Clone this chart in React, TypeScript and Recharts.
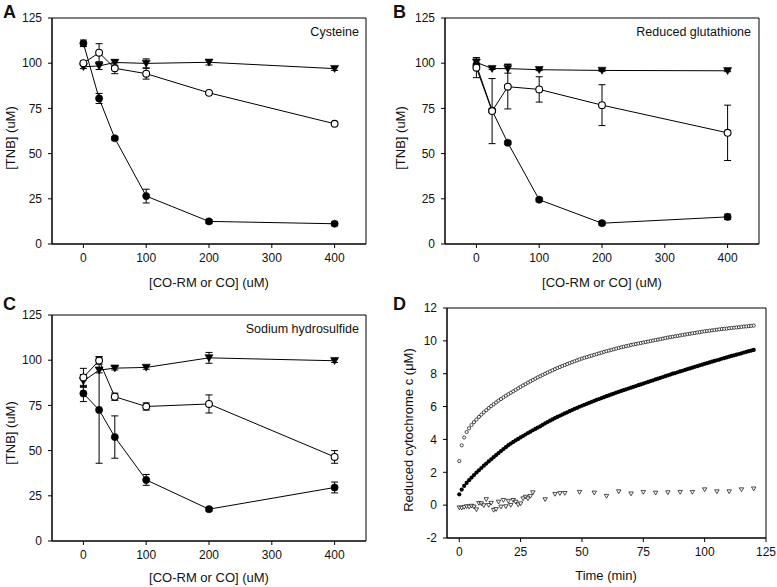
import React from 'react';
import {
  ComposedChart,
  ScatterChart,
  Line,
  Scatter,
  XAxis,
  YAxis,
  ErrorBar,
  ReferenceArea,
} from 'recharts';

const FONT = '"Liberation Sans", Arial, Helvetica, sans-serif';
const INK = '#111';

// ---------- Panels A-C: dose axis ----------
const doseX = [0, 25, 50, 100, 200, 400];
const doseTicks = [0, 100, 200, 300, 400];
const tnbTicks = [0, 25, 50, 75, 100, 125];

// A: Cysteine
const cysFilled = [111, 80.5, 58.5, 26.5, 12.5, 11.2];
const cysFilledErr = [1.8, 2.8, 1, 3.8, 1, 1];
const cysOpen = [100, 105.8, 97.2, 94.2, 83.6, 66.5];
const cysOpenErr = [1, 5, 3, 3, 0.6, 0.6];
const cysTri = [98, 98.5, 100.4, 99.9, 100.5, 97];
const cysTriErr = [1, 2, 1.5, 2.5, 1.5, 1];

// B: Reduced glutathione
const gshFilled = [99, 73.8, 56, 24.5, 11.5, 15];
const gshFilledErr = [1, 1, 1, 1, 1, 1.5];
const gshOpen = [97.5, 73.5, 87, 85.5, 76.8, 61.5];
const gshOpenErr = [5.5, 18, 12.3, 7, 11.3, 15.3];
const gshTri = [100.5, 97, 97, 96.4, 96, 95.8];
const gshTriErr = [2.5, 0.5, 2.5, 0.5, 0.5, 0.5];

// C: Sodium hydrosulfide
const nahsFilled = [81.6, 72.5, 57.5, 33.8, 17.6, 29.6];
const nahsFilledErr = [4.5, 29.5, 11.7, 3, 1, 3];
const nahsOpen = [90.5, 99.8, 79.8, 74.4, 75.8, 46.5];
const nahsOpenErr = [5, 2, 2, 2, 5, 3.5];
const nahsTri = [88.5, 94.5, 95.6, 96, 101.3, 99.7];
const nahsTriErr = [3.5, 1.5, 1, 1, 3, 1];

// ---------- Panel D: time course ----------
const timeTicks = [0, 25, 50, 75, 100, 125];
const cytTicks = [-2, 0, 2, 4, 6, 8, 10, 12];
const timeMin = Array.from({ length: 121 }, (_, i) => i);
const cytOpen = [
  2.68, 3.64, 4.12, 4.45, 4.68, 4.88, 5.05, 5.21, 5.37, 5.51, 5.65, 5.78, 5.91, 6.03, 6.14, 6.25, 6.36, 6.46, 6.56, 6.66,
  6.75, 6.84, 6.93, 7.02, 7.11, 7.2, 7.29, 7.37, 7.46, 7.54, 7.62, 7.7, 7.78, 7.85, 7.93, 8.0, 8.07, 8.14, 8.21, 8.28,
  8.35, 8.41, 8.47, 8.53, 8.59, 8.65, 8.7, 8.76, 8.81, 8.87, 8.92, 8.97, 9.01, 9.06, 9.1, 9.15, 9.19, 9.24, 9.28, 9.33,
  9.37, 9.41, 9.45, 9.49, 9.53, 9.57, 9.61, 9.64, 9.68, 9.71, 9.75, 9.78, 9.81, 9.84, 9.87, 9.9, 9.93, 9.96, 9.99, 10.02,
  10.05, 10.08, 10.11, 10.14, 10.17, 10.2, 10.23, 10.25, 10.28, 10.3, 10.33, 10.36, 10.38, 10.41, 10.43, 10.46, 10.48, 10.51, 10.53, 10.56,
  10.58, 10.6, 10.62, 10.64, 10.66, 10.68, 10.7, 10.72, 10.73, 10.75, 10.77, 10.79, 10.8, 10.82, 10.83, 10.85, 10.87, 10.88, 10.9, 10.91,
  10.93,
];
const cytFilled = [
  0.66, 0.95, 1.17, 1.35, 1.52, 1.68, 1.83, 1.98, 2.12, 2.26, 2.4, 2.53, 2.66, 2.79, 2.92, 3.05, 3.17, 3.29, 3.41, 3.53,
  3.65, 3.75, 3.85, 3.94, 4.03, 4.12, 4.21, 4.3, 4.39, 4.47, 4.56, 4.64, 4.72, 4.8, 4.89, 4.98, 5.06, 5.14, 5.22, 5.3,
  5.37, 5.44, 5.51, 5.58, 5.65, 5.72, 5.79, 5.86, 5.92, 5.99, 6.05, 6.11, 6.17, 6.23, 6.29, 6.35, 6.41, 6.46, 6.52, 6.57,
  6.63, 6.68, 6.74, 6.79, 6.85, 6.9, 6.95, 7.0, 7.05, 7.1, 7.15, 7.2, 7.25, 7.3, 7.35, 7.4, 7.45, 7.5, 7.55, 7.6,
  7.65, 7.7, 7.75, 7.8, 7.85, 7.9, 7.95, 8.0, 8.04, 8.09, 8.14, 8.18, 8.23, 8.28, 8.32, 8.37, 8.42, 8.46, 8.51, 8.55,
  8.6, 8.64, 8.69, 8.73, 8.78, 8.82, 8.86, 8.91, 8.95, 8.99, 9.04, 9.08, 9.12, 9.16, 9.2, 9.24, 9.29, 9.33, 9.37, 9.41,
  9.45,
];
const triTime = [
  0, 1, 2, 3, 4, 5, 6, 7, 8, 9, 10, 11, 12, 13, 14, 15, 16, 17, 18, 19, 20, 21, 22, 23, 24, 25, 26, 27, 28, 29, 30,
  35, 39, 41, 43, 49, 55, 60, 65, 70, 75, 80, 85, 90, 95, 100, 105, 110, 115, 120,
];
const triCyt = [
  -0.15, -0.17, -0.12, -0.08, -0.1, -0.05, -0.1, -0.27, 0.12, 0.1, -0.02, 0.35, 0, 0.13, -0.3, -0.25, 0.2, -0.1, 0.3, -0.08,
  0.25, 0, 0.3, 0.2, 0.03, 0.1, 0.4, 0.5, 0.4, 0.55, 0.77,
  0.35, 0.67, 0.72, 0.73, 0.79, 0.75, 0.55, 0.83, 0.7, 0.79, 0.75, 0.77, 0.79, 0.79, 0.95, 0.83, 0.83, 0.95, 1.0,
];

type Row = {
  x: number;
  f: number; fe: number;
  o: number; oe: number;
  t: number; te: number;
};

const buildRows = (
  f: number[], fe: number[], o: number[], oe: number[], t: number[], te: number[],
): Row[] => doseX.map((x, i) => ({ x, f: f[i], fe: fe[i], o: o[i], oe: oe[i], t: t[i], te: te[i] }));

const rowsA = buildRows(cysFilled, cysFilledErr, cysOpen, cysOpenErr, cysTri, cysTriErr);
const rowsB = buildRows(gshFilled, gshFilledErr, gshOpen, gshOpenErr, gshTri, gshTriErr);
const rowsC = buildRows(nahsFilled, nahsFilledErr, nahsOpen, nahsOpenErr, nahsTri, nahsTriErr);

const dOpen = timeMin.map((t, i) => ({ t, v: cytOpen[i] }));
const dFilled = timeMin.map((t, i) => ({ t, v: cytFilled[i] }));
const dTri = triTime.map((t, i) => ({ t, v: triCyt[i] }));

const tickStyle = { fontSize: 12, fill: INK, fontFamily: FONT };

const FilledDot = (p: any) => {
  if (p.cx == null || p.cy == null) return <g key={`fd-${p.index}`} />;
  return <circle key={`fd-${p.index}`} cx={p.cx} cy={p.cy} r={3.6} fill="#000" stroke="#000" strokeWidth={0.6} />;
};
const OpenDot = (p: any) => {
  if (p.cx == null || p.cy == null) return <g key={`od-${p.index}`} />;
  return <circle key={`od-${p.index}`} cx={p.cx} cy={p.cy} r={3.4} fill="#fff" stroke="#000" strokeWidth={1.1} />;
};
const TriDot = (p: any) => {
  if (p.cx == null || p.cy == null) return <g key={`td-${p.index}`} />;
  const { cx, cy } = p;
  return (
    <path
      key={`td-${p.index}`}
      d={`M${cx - 4},${cy - 3.2}L${cx + 4},${cy - 3.2}L${cx},${cy + 3.8}Z`}
      fill="#000"
      stroke="#000"
      strokeWidth={0.6}
    />
  );
};

const SmallOpen = (p: any) => <circle cx={p.cx} cy={p.cy} r={1.6} fill="#fff" stroke="#000" strokeWidth={0.7} />;
const SmallFilled = (p: any) => <circle cx={p.cx} cy={p.cy} r={2.1} fill="#000" stroke="none" />;
const SmallTri = (p: any) => (
  <path
    d={`M${p.cx - 2.2},${p.cy - 1.7}L${p.cx + 2.2},${p.cy - 1.7}L${p.cx},${p.cy + 2.1}Z`}
    fill="#fff"
    stroke="#000"
    strokeWidth={0.7}
  />
);

type DoseProps = {
  rows: Row[];
  width: number;
  height: number;
  top: number;
  right: number;
  yWidth: number;
};

function DosePanel({ rows, width, height, top, right, yWidth }: DoseProps) {
  return (
    <ComposedChart width={width} height={height} data={rows} margin={{ top, right, bottom: 0, left: 0 }}>
      <XAxis
        dataKey="x"
        type="number"
        domain={[-50, 450]}
        ticks={doseTicks}
        interval={0}
        allowDataOverflow
        height={46}
        tickSize={4}
        tickMargin={5}
        tick={tickStyle}
        axisLine={{ stroke: '#000' }}
        tickLine={{ stroke: '#000' }}
      />
      <YAxis
        type="number"
        domain={[0, 125]}
        ticks={tnbTicks}
        interval={0}
        allowDataOverflow
        width={yWidth}
        tickSize={4}
        tickMargin={6}
        tick={tickStyle}
        axisLine={{ stroke: '#000' }}
        tickLine={{ stroke: '#000' }}
      />
      <ReferenceArea x1={-50} x2={450} y1={0} y2={125} fill="none" stroke="#000" strokeWidth={1} />
      <Line dataKey="f" stroke="#000" strokeWidth={1} dot={FilledDot} activeDot={false} isAnimationActive={false}>
        <ErrorBar dataKey="fe" width={3.5} stroke="#000" strokeWidth={1} direction="y" />
      </Line>
      <Line dataKey="t" stroke="#000" strokeWidth={1} dot={TriDot} activeDot={false} isAnimationActive={false}>
        <ErrorBar dataKey="te" width={3.5} stroke="#000" strokeWidth={1} direction="y" />
      </Line>
      <Line dataKey="o" stroke="#000" strokeWidth={1} dot={OpenDot} activeDot={false} isAnimationActive={false}>
        <ErrorBar dataKey="oe" width={3.5} stroke="#000" strokeWidth={1} direction="y" />
      </Line>
    </ComposedChart>
  );
}

function TimePanel() {
  return (
    <ScatterChart width={387} height={297} margin={{ top: 18, right: 11, bottom: 0, left: 0 }}>
      <XAxis
        dataKey="t"
        type="number"
        domain={[-5, 125]}
        ticks={timeTicks}
        interval={0}
        allowDataOverflow
        height={49}
        tickSize={4}
        tickMargin={5}
        tick={tickStyle}
        axisLine={{ stroke: '#000' }}
        tickLine={{ stroke: '#000' }}
      />
      <YAxis
        dataKey="v"
        type="number"
        domain={[-2, 12]}
        ticks={cytTicks}
        interval={0}
        allowDataOverflow
        width={57}
        tickSize={4}
        tickMargin={6}
        tick={tickStyle}
        axisLine={{ stroke: '#000' }}
        tickLine={{ stroke: '#000' }}
      />
      <ReferenceArea x1={-5} x2={125} y1={-2} y2={12} fill="none" stroke="#000" strokeWidth={1} />
      <Scatter data={dTri} shape={SmallTri} isAnimationActive={false} />
      <Scatter data={dOpen} shape={SmallOpen} isAnimationActive={false} />
      <Scatter data={dFilled} shape={SmallFilled} isAnimationActive={false} />
    </ScatterChart>
  );
}

const letterStyle = { fontFamily: FONT, fontWeight: 700, fontSize: 18, fill: INK } as const;
const titleStyle = { fontFamily: FONT, fontSize: 13, fill: INK } as const;
const noteStyle = { fontFamily: FONT, fontSize: 12.5, fill: INK } as const;

export default function App() {
  return (
    <div style={{ position: 'absolute', left: 0, top: 0, width: 777, height: 587, background: '#fff', overflow: 'hidden' }}>
      <div style={{ position: 'absolute', left: 0, top: 0 }}>
        <DosePanel rows={rowsA} width={390} height={290} top={18} right={24} yWidth={52} />
      </div>
      <div style={{ position: 'absolute', left: 390, top: 0 }}>
        <DosePanel rows={rowsB} width={387} height={290} top={18} right={18} yWidth={55} />
      </div>
      <div style={{ position: 'absolute', left: 0, top: 290 }}>
        <DosePanel rows={rowsC} width={390} height={297} top={25} right={24} yWidth={52} />
      </div>
      <div style={{ position: 'absolute', left: 390, top: 290 }}>
        <TimePanel />
      </div>
      <svg width={777} height={587} style={{ position: 'absolute', left: 0, top: 0, pointerEvents: 'none' }}>
        <text x={3} y={18} style={letterStyle}>A</text>
        <text x={393} y={18} style={letterStyle}>B</text>
        <text x={3} y={310} style={letterStyle}>C</text>
        <text x={393} y={310} style={letterStyle}>D</text>

        <text x={359} y={36} textAnchor="end" style={noteStyle}>Cysteine</text>
        <text x={751} y={36} textAnchor="end" style={noteStyle}>Reduced glutathione</text>
        <text x={359} y={333} textAnchor="end" style={noteStyle}>Sodium hydrosulfide</text>

        <text x={209} y={287} textAnchor="middle" style={titleStyle}>[CO-RM or CO] (uM)</text>
        <text x={602} y={287} textAnchor="middle" style={titleStyle}>[CO-RM or CO] (uM)</text>
        <text x={209} y={582} textAnchor="middle" style={titleStyle}>[CO-RM or CO] (uM)</text>
        <text x={606} y={580} textAnchor="middle" style={titleStyle}>Time (min)</text>

        <text transform="translate(14.5,138) rotate(-90)" textAnchor="middle" style={titleStyle}>[TNB] (uM)</text>
        <text transform="translate(404.5,138) rotate(-90)" textAnchor="middle" style={titleStyle}>[TNB] (uM)</text>
        <text transform="translate(14.5,433) rotate(-90)" textAnchor="middle" style={titleStyle}>[TNB] (uM)</text>
        <text transform="translate(413,430) rotate(-90)" textAnchor="middle" style={titleStyle}>Reduced cytochrome c (μM)</text>
      </svg>
    </div>
  );
}
